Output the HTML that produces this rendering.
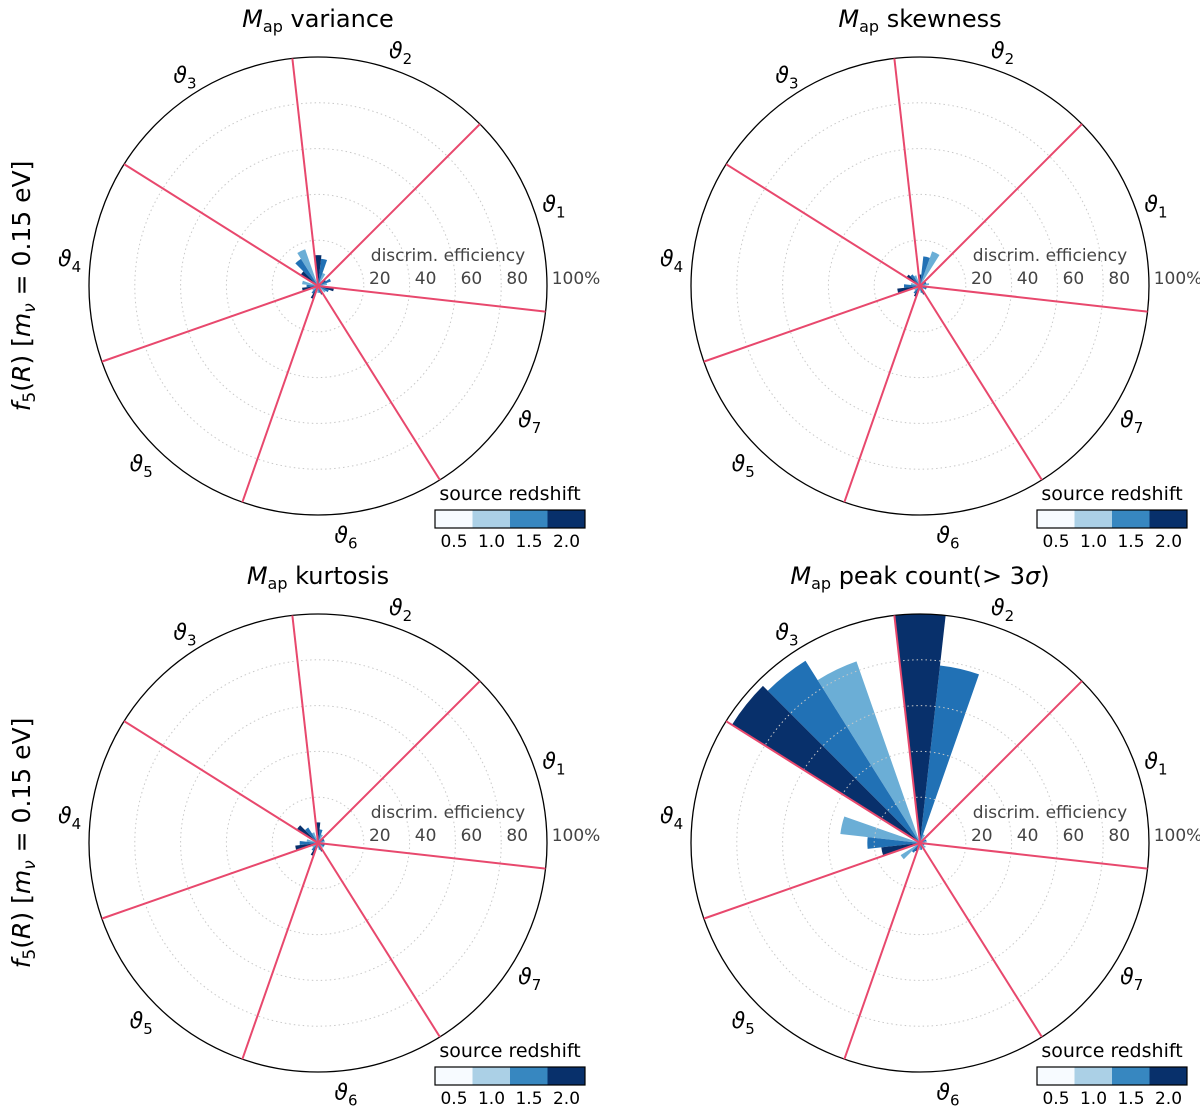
<!DOCTYPE html>
<html><head><meta charset="utf-8">
<style>
body{margin:0;background:#fff;}
svg{display:block;font-family:"DejaVu Sans","Liberation Sans",sans-serif;}
</style></head>
<body>
<svg id="fig" width="1200" height="1108" viewBox="0 0 1200 1108" xmlns="http://www.w3.org/2000/svg"></svg>
<script>
const sectorLabels = ["1","2","3","4","5","6","7"];
const rTicks = [20,40,60,80,100];
const zLabels = ["0.5","1.0","1.5","2.0"];
const titles = ["variance","skewness","kurtosis","peak count"];
// values per sector: [z0.5, z1.0, z1.5, z2.0] in percent
const varianceVals = [[0,4,6,4],[0,6,12,13.5],[0,17,14,9],[0,7,5,7],[0,3,4,6],[0,3,3,4],[0,4,5,7]];
const skewnessVals = [[0,4,3,3],[0,16,13,5],[0,5,6,7],[0,4,7,10],[0,3,4,5],[0,2,3,4],[0,2,3,3]];
const kurtosisVals = [[0,3,3,3],[0,4,6,9],[0,5,8,11],[0,5,8,10],[0,3,4,6],[0,2,3,4],[0,3,3,3]];
const peakVals = [[0,3,3,2],[0,4,78,100],[0,84,94,97],[0,35,23,17],[0,10,5,4],[0,3,3,2],[0,3,2,2]];

const NS="http://www.w3.org/2000/svg";
const svg=document.getElementById('fig');
const barColors=["#f7fbff","#6baed6","#2171b5","#08306b"];
const cbColors=["#f7fbff","#abd0e6","#3787c0","#08306b"];
const R=229, START=-6.43, SEC=360/7, BW=SEC/4;
function el(tag,attrs,parent){const e=document.createElementNS(NS,tag);for(const k in attrs)e.setAttribute(k,attrs[k]);(parent||svg).appendChild(e);return e;}
function rScale(v){return v/100*R;}
function pt(cx,cy,r,deg){const a=deg*Math.PI/180;return [cx+r*Math.cos(a),cy-r*Math.sin(a)];}

function panel(cx,cy,vals,titleHTML,name){
  const g=el('g',{});
  
  
  vals.forEach((sv,k)=>{sv.forEach((v,z)=>{
    if(v<=0)return;
    const a1=START+k*SEC+z*BW, a2=a1+BW, r=rScale(v);
    const p1=pt(cx,cy,r,a1),p2=pt(cx,cy,r,a2);
    const p=el('path',{d:`M${cx},${cy}L${p1[0]},${p1[1]}A${r},${r} 0 0 0 ${p2[0]},${p2[1]}Z`,fill:barColors[z]},g);
    
    
  });});
  rTicks.slice(0,-1).forEach(t=>{
    const c=el('circle',{cx:cx,cy:cy,r:rScale(t),fill:'none',stroke:'#c8c8c8','stroke-width':1,'stroke-dasharray':'1.5,3'},g);
    
    
  });
  const oc=el('circle',{cx:cx,cy:cy,r:R,fill:'none',stroke:'#000','stroke-width':1.3},g);
  
  
  for(let k=0;k<7;k++){
    const p=pt(cx,cy,R,START+k*SEC);
    const l=el('line',{x1:cx,y1:cy,x2:p[0],y2:p[1],stroke:'#e8486d','stroke-width':2},g);
    
    
  }
  sectorLabels.forEach((s,k)=>{
    const p=pt(cx,cy,250,START+k*SEC+SEC/2);
    const t=el('text',{x:p[0],y:p[1]+8,'text-anchor':'middle','font-size':22,'font-style':'italic',fill:'#000'},g);
    t.innerHTML='ϑ<tspan font-size="15" dy="6" font-style="normal">'+s+'</tspan>';
    
    
  });
  const dl=el('text',{x:cx+130,y:cy-25,'text-anchor':'middle','font-size':17,fill:'#444'},g);
  dl.textContent='discrim. efficiency';
  
  
  rTicks.forEach(t=>{
    const tx=el('text',{x:cx+rScale(t)+(t==100?29:16),y:cy-2,'text-anchor':'middle','font-size':17,fill:'#444'},g);
    tx.textContent=t==100?'100%':String(t);
    
    
  });
  const tt=el('text',{x:cx,y:cy-259,'text-anchor':'middle','font-size':24,fill:'#000'},g);
  tt.innerHTML=titleHTML;
  
  
  const bx=cx+117, by=cy+224;
  const st=el('text',{x:bx+75,y:by-10,'text-anchor':'middle','font-size':19,fill:'#000'},g);
  st.textContent='source redshift';
  
  
  cbColors.forEach((c,i)=>{
    const r=el('rect',{x:bx+i*37.5,y:by,width:37.5,height:18,fill:c},g);
    
    
    const lt=el('text',{x:bx+19+i*37.5,y:by+37,'text-anchor':'middle','font-size':17,fill:'#000'},g);
    lt.textContent=zLabels[i];
    
    
  });
  const fr=el('rect',{x:bx,y:by,width:150,height:18,fill:'none',stroke:'#000','stroke-width':1.2},g);
  
  
}
const M='<tspan font-style="italic">M</tspan><tspan font-size="16" dy="5">ap</tspan><tspan dy="-5"> ';
panel(318,286,varianceVals,M+titles[0]+'</tspan>','variance');
panel(920,286,skewnessVals,M+titles[1]+'</tspan>','skewness');
panel(318,843,kurtosisVals,M+titles[2]+'</tspan>','kurtosis');
panel(920,843,peakVals,M+titles[3]+'(&gt; 3<tspan font-style="italic">σ</tspan>)</tspan>','peak-count');
[286,843].forEach((y,i)=>{
  const t=el('text',{x:0,y:0,transform:`translate(30,${y}) rotate(-90)`,'text-anchor':'middle','font-size':25,fill:'#000'});
  t.innerHTML='<tspan font-style="italic">f</tspan><tspan font-size="17" dy="5">5</tspan><tspan dy="-5">(<tspan font-style="italic">R</tspan>) [<tspan font-style="italic">m</tspan></tspan><tspan font-size="17" dy="5" font-style="italic">ν</tspan><tspan dy="-5"> = 0.15 eV]</tspan>';
  
  
});
</script>
</body></html>
